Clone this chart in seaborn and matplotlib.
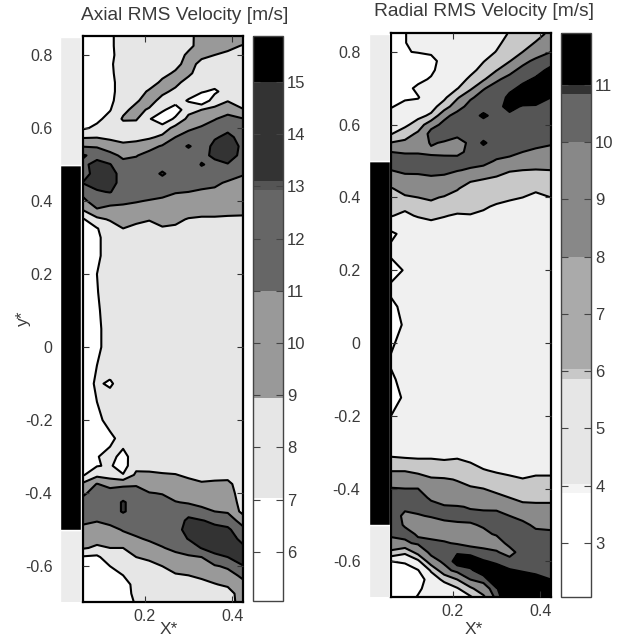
"""Axial and radial RMS velocity contour maps, greyscale."""

import matplotlib
matplotlib.use("Agg")
import matplotlib.pyplot as plt
from matplotlib.cm import ScalarMappable
from matplotlib.colors import BoundaryNorm, ListedColormap
import numpy as np
import seaborn as sns

FIG_W, FIG_H = 624, 638
TEXT_COLOR = "#3a3a3a"

x_star = [0.058, 0.09, 0.12, 0.15, 0.18, 0.21, 0.24, 0.27, 0.30, 0.33, 0.36, 0.39, 0.425]
y_star = [
    0.85, 0.825, 0.80, 0.775, 0.75, 0.725, 0.70, 0.675, 0.65, 0.625, 0.60, 0.575,
    0.55, 0.525, 0.50, 0.475, 0.45, 0.425, 0.40, 0.375, 0.35, 0.325, 0.30,
    0.25, 0.20, 0.15, 0.10, 0.05, 0.0, -0.05, -0.10, -0.15, -0.20, -0.25, -0.30,
    -0.325, -0.35, -0.375, -0.40, -0.425, -0.45, -0.475, -0.50, -0.525, -0.55,
    -0.575, -0.60, -0.625, -0.65, -0.675, -0.70,
]

# one list per x* column, top to bottom
axial_rms = [
    [6, 6, 6, 6, 6, 6, 6, 6, 6, 6, 6.7, 8.8, 10.9, 13.2, 12.6, 12, 13.1, 11.5, 10.6, 9, 6.8, 6, 6,
     6, 6, 6, 6, 6, 6, 6, 6, 6, 6, 6, 6,
     6, 6.8, 9.4, 10.6, 11.8, 12, 11.4, 10.5, 10, 9.2, 6.8, 6, 6, 6, 6, 6],
    [6, 6, 6, 6, 6, 6, 6, 6, 6, 6.6, 7.4, 8.9, 10.8, 12.4, 13.6, 14, 13.7, 12.8, 11.9, 10.8, 8.5, 6.9, 6.6,
     6.6, 7, 6.9, 6.7, 6.5, 6.5, 7, 7.3, 7, 6.4, 6.2, 6.9,
     6.9, 8.5, 11.1, 12, 12, 12, 11.1, 10.2, 9.6, 8.7, 6.6, 6, 6, 6, 6, 6],
    [6.6, 6.6, 6.5, 6.7, 6.6, 6.4, 6.4, 6.6, 6.9, 7.6, 7.8, 8.6, 10, 11.6, 13.1, 14, 14, 13.1, 11.5, 10.5, 9.2, 8, 8,
     8, 8, 8, 8, 8, 8, 8, 6.7, 8, 7.8, 6.5, 7.6,
     7.2, 8.2, 10.2, 12, 12, 12, 11.4, 10.6, 9.8, 9, 8.2, 7, 6, 6, 6, 6],
    [8, 8, 8, 8, 8, 8, 8, 8, 8.6, 9.2, 8.2, 8.4, 9.4, 10.6, 11.6, 12, 12, 12, 11.3, 10.5, 9.7, 9, 8.2,
     8, 8, 8, 8, 8, 8, 8, 8, 8, 8, 7.8, 6.4,
     6.2, 7.1, 10.6, 12, 13.2, 13.2, 11.8, 11.1, 10.5, 9, 8.3, 7.6, 7, 6, 6, 6],
    [8, 8, 8, 8, 8, 8, 8, 8.8, 9.5, 9.2, 8, 8.5, 9.6, 10.9, 11.6, 12, 12, 12, 11.1, 10.4, 9.4, 8.6, 8,
     8, 8, 8, 8, 8, 8, 8, 8, 8, 8, 8, 8,
     8.4, 9.4, 10.8, 11.7, 12.2, 12.2, 12, 11.5, 10.8, 10, 9, 8, 8, 7.8, 7.6, 7.2],
    [8, 8, 8, 8, 8, 8, 9.3, 9.7, 8.8, 7.2, 8, 8.7, 10.4, 11.6, 12, 12, 12, 11.7, 10.9, 10, 9.1, 8.4, 8,
     8, 8, 8, 8, 8, 8, 8, 8, 8, 8, 8, 8,
     8.3, 9.4, 9.9, 11.1, 12, 12, 12, 11.7, 11.2, 10.4, 9.4, 8.4, 8, 8, 8, 8],
    [8, 8, 8, 8, 8.4, 9.4, 9.4, 8.4, 7.4, 5.5, 8, 9.4, 11.2, 12, 12, 13.3, 12, 11.5, 10.7, 10, 9.4, 8.9, 8,
     8, 8, 8, 8, 8, 8, 8, 8, 8, 8, 8, 8,
     8.2, 9.2, 9.7, 10.9, 11.7, 12, 12, 12, 11.6, 10.9, 9.9, 9, 8.2, 8, 8, 8],
    [8, 8, 8, 8.4, 9.3, 9.5, 8.6, 8, 5.8, 7.4, 9.6, 11, 12, 12, 12, 12, 12, 11.1, 10.4, 9.8, 9.3, 8.8, 8,
     8, 8, 8, 8, 8, 8, 8, 8, 8, 8, 8, 8,
     8, 9.1, 9.7, 10.2, 11.1, 11.8, 12, 12, 12, 11.4, 10.5, 9.8, 8.8, 8, 8, 8],
    [8.6, 8.5, 9.4, 9.8, 9.4, 8.3, 8, 6.8, 8.4, 9.5, 10.7, 11.7, 13.2, 12, 12, 12, 11.8, 11, 10.4, 9.7, 8.9, 8, 8,
     8, 8, 8, 8, 8, 8, 8, 8, 8, 8, 8, 8,
     8, 8.6, 9.7, 10.1, 10.8, 12.3, 13.4, 14, 13.1, 11.8, 10.8, 9.8, 9, 8, 8, 8],
    [9.6, 9.8, 9.5, 8.4, 8, 8, 7.2, 5.5, 9, 10.2, 11.2, 12, 12, 12.6, 13.1, 12.4, 11.5, 10.8, 10.2, 9.5, 8.8, 8, 8,
     8, 8, 8, 8, 8, 8, 8, 8, 8, 8, 8, 8,
     8, 8.4, 9.2, 9.9, 10.6, 11.4, 13.1, 14, 14, 13.1, 11, 10.3, 9.4, 8.4, 8, 8],
    [10, 9.7, 9, 8.4, 8, 8, 6.6, 8, 9.5, 10.9, 11.8, 12.8, 13.5, 13.3, 12.6, 12, 11.3, 10.7, 10.1, 9.5, 8.8, 8, 8,
     8, 8, 8, 8, 8, 8, 8, 8, 8, 8, 8, 8,
     8, 8.5, 9.3, 9.9, 10.4, 11, 12.6, 13.5, 14, 13.6, 12.6, 10.8, 9.8, 8.9, 8, 8],
    [10, 9.4, 8.7, 8.2, 8, 8, 8, 8.9, 10.3, 11.6, 12.6, 13.4, 14, 13.8, 12.9, 11.8, 10.8, 10.4, 10, 9.5, 8.7, 8, 8,
     8, 8, 8, 8, 8, 8, 8, 8, 8, 8, 8, 8,
     8, 8.6, 9.3, 9.7, 10.2, 10.8, 12, 13.4, 14, 14, 13, 11.3, 10.3, 9.3, 8.2, 8],
    [9.8, 8.9, 8.2, 8, 8, 8, 8, 8.2, 9.1, 11.1, 11.8, 12.4, 12.6, 12.5, 12, 11.1, 10.6, 10.2, 9.9, 9.4, 8.7, 8, 8,
     8, 8, 8, 8, 8, 8, 8, 8, 8, 8, 8, 8,
     8, 8, 8.3, 8.2, 8.2, 8.4, 10.2, 11.5, 12.4, 13.4, 14, 12.9, 11.4, 10.5, 10, 10],
]

radial_rms = [
    [3, 3, 3, 3, 3, 3, 3, 3, 3.9, 4.5, 5.2, 5.9, 8.1, 10, 10.5, 10, 9.2, 7.9, 7.5, 6.8, 6.1, 5, 3.6,
     4.5, 3, 4.5, 3.5, 3, 3.6, 4.3, 3.6, 3.2, 4, 5, 5.5,
     6.5, 7.9, 9, 10.1, 10.5, 10.5, 10.5, 10.5, 10.3, 9.4, 7.6, 4, 3, 3, 3, 3],
    [3.9, 3.9, 3.9, 3, 3, 3, 3.4, 3.8, 4.4, 5, 5.6, 7, 8.5, 9.9, 10.5, 10.2, 9.7, 8.6, 7.8, 6.4, 5.6, 5, 4.6,
     5, 4.2, 5, 4.6, 4.3, 5, 5, 4.8, 4.3, 5, 5, 5.5,
     6.3, 7.9, 9, 10, 10.5, 10.2, 9.8, 9.9, 10.3, 9.8, 6.4, 4.3, 3, 3, 3, 3],
    [5, 5, 4.1, 3, 3, 3.5, 4.4, 3.9, 4.6, 5.5, 6.8, 8.4, 9.4, 9.9, 10.5, 10.3, 9.6, 9.2, 8, 7.2, 6.2, 5, 5,
     5, 5, 5, 5, 5, 5, 5, 5, 5, 5, 5, 5.5,
     6.2, 7.6, 8.7, 10, 10.5, 10.4, 9.9, 9.2, 9.9, 10.2, 8.8, 5.5, 3.9, 3, 3.6, 4.2],
    [5, 5, 4.2, 3.6, 3.6, 4.2, 5, 5, 5.3, 6.3, 9.4, 10.6, 10.1, 9.8, 10.4, 10.5, 9.7, 9.4, 8.3, 7.4, 6.4, 5.6, 5,
     5, 5, 5, 5, 5, 5, 5, 5, 5, 5, 5, 5.5,
     6.2, 6.9, 8.3, 9.1, 9.8, 10.4, 10.1, 9.4, 9.6, 10.3, 10.4, 9.3, 6.2, 5, 5, 5],
    [5, 5, 5, 4.5, 5, 5, 5, 5.6, 6.9, 9.6, 10.4, 10.5, 9.9, 9.8, 10.3, 10.2, 9.8, 9.3, 7.8, 7, 6.1, 5.4, 5,
     5, 5, 5, 5, 5, 5, 5, 5, 5, 5, 5, 5.4,
     6.1, 6.8, 8.2, 8.8, 9.5, 10.1, 10.3, 9.7, 9.6, 10.1, 10.5, 10.3, 9.4, 6.4, 5, 5],
    [5, 5, 5, 5, 5, 5, 5.9, 7.7, 9.4, 10.5, 10.5, 10.4, 9.4, 9.5, 10.7, 10.05, 9.5, 8.1, 7.6, 6.7, 5.8, 5, 5,
     5, 5, 5, 5, 5, 5, 5, 5, 5, 5, 5, 5.5,
     6.2, 6.7, 7.9, 8.5, 9, 10.1, 10.4, 9.8, 9.4, 9.9, 10.9, 11.4, 10.5, 8, 5.8, 5],
    [5, 5, 5, 5, 5.4, 6.4, 7.6, 9.8, 10.5, 10.5, 10.5, 10.5, 10.3, 10.5, 10.3, 9.9, 8.2, 7.5, 7.1, 6.6, 5.9, 5, 5,
     5, 5, 5, 5, 5, 5, 5, 5, 5, 5, 5, 5,
     5.9, 6.6, 7.4, 8.2, 8.7, 9.9, 10.3, 9.9, 9.4, 9.6, 10.7, 11.6, 10.8, 10, 7.6, 5.6],
    [5, 5, 5, 5.9, 6.7, 7.7, 9.9, 10.5, 10.5, 11.2, 10.5, 10.5, 11.15, 10.5, 10.3, 9.7, 8, 7.3, 6.9, 6.2, 5.7, 5, 5,
     5, 5, 5, 5, 5, 5, 5, 5, 5, 5, 5, 5,
     5.4, 6.1, 6.9, 8, 8.6, 9.8, 10.3, 10.1, 9.8, 9.6, 10.3, 11.1, 11.6, 10.5, 9.2, 7.5],
    [5, 5.5, 6.1, 7, 7.9, 9.8, 10.5, 10.5, 10.7, 10.6, 10.5, 10.5, 10.5, 10.4, 9.9, 8.7, 7.7, 7.1, 6.5, 5.8, 5.2, 5, 5,
     5, 5, 5, 5, 5, 5, 5, 5, 5, 5, 5, 5,
     5, 5.8, 6.6, 7.5, 8.5, 9.7, 10.4, 10.3, 10.1, 9.5, 10.1, 10.8, 11.5, 12, 10.9, 10.5],
    [6.2, 6.8, 7.3, 7.9, 9.6, 10.4, 10.8, 11.2, 11.3, 10.8, 10.5, 10.5, 10.5, 10.3, 9.7, 8.1, 7.5, 6.9, 6.2, 5.6, 5, 5, 5,
     5, 5, 5, 5, 5, 5, 5, 5, 5, 5, 5, 5,
     5, 5.5, 6.4, 7.2, 8, 9, 10, 10.5, 10.5, 10.3, 9.6, 10.4, 11.1, 12, 12, 12],
    [6.6, 7.3, 8, 9.6, 10.4, 10.8, 11.2, 11.7, 10.9, 10.7, 10.5, 10.5, 10.5, 10, 9.5, 8, 7.4, 6.7, 6, 5.4, 5, 5, 5,
     5, 5, 5, 5, 5, 5, 5, 5, 5, 5, 5, 5,
     5, 5.2, 6.1, 6.9, 7.6, 8.4, 9.5, 10.4, 10.5, 10.5, 10.5, 10.6, 10.9, 11.6, 12, 12],
    [7.4, 8.1, 9.3, 10.3, 10.7, 11.1, 11.6, 11.5, 10.9, 10.7, 10.6, 10.5, 10.3, 9.8, 9.2, 7.9, 7.2, 6.3, 5.6, 5, 5, 5, 5,
     5, 5, 5, 5, 5, 5, 5, 5, 5, 5, 5, 5,
     5, 5.6, 6.3, 7, 7.6, 8.3, 9, 9.7, 10.4, 10.5, 10.5, 10.5, 10.7, 11.4, 12, 12],
    [8.4, 9, 10, 10.7, 11.2, 11.8, 11.9, 11, 10.8, 10.7, 10.6, 10.4, 10.1, 9.7, 9, 8, 7.4, 6.7, 6, 5.4, 5, 5, 5,
     5, 5, 5, 5, 5, 5, 5, 5, 5, 5, 5, 5,
     5, 5.6, 6.3, 7, 7.6, 8.3, 8.9, 9.6, 10.3, 10.5, 10.5, 10.5, 10.6, 11, 12, 12],
]

# contour levels and fills
axial_levels = [5.06, 7, 9, 11, 13, 15, 15.88]
axial_fills = ["#ffffff", "#e6e6e6", "#999999", "#666666", "#333333", "#000000"]
radial_levels = [2.06, 4, 6, 8, 10, 11, 13]
radial_fills = ["#ffffff", "#f0f0f0", "#c8c8c8", "#8a8a8a", "#555555", "#000000"]

# colour bar bands
axial_bar_edges = [5.06, 7.03, 8.95, 11, 12.93, 13.1, 15, 15.88]
axial_bar_fills = ["#ffffff", "#e6e6e6", "#999999", "#666666", "#555555", "#333333", "#000000"]
axial_bar_ticks = [6, 7, 8, 9, 10, 11, 12, 13, 14, 15]
radial_bar_edges = [2.06, 3.88, 4.03, 5.87, 6.03, 8, 10, 10.83, 11, 11.9]
radial_bar_fills = ["#ffffff", "#f4f4f4", "#e6e6e6", "#c8c8c8", "#aaaaaa",
                    "#888888", "#666666", "#333333", "#000000"]
radial_bar_ticks = [3, 4, 5, 6, 7, 8, 9, 10, 11]

# nozzle strip beside each map
strip_edges = [-0.7, -0.5, 0.5, 0.85]
strip_fills = ["#ececec", "#000000", "#ececec"]

y_ticks = [-0.6, -0.4, -0.2, 0, 0.2, 0.4, 0.6, 0.8]
y_tick_labels = ["-0.6", "-0.4", "-0.2", "0", "0.2", "0.4", "0.6", "0.8"]
x_ticks = [0.2, 0.4]


def px_axes(fig, left, top, right, bottom):
    """Axes placed by pixel box, origin top left."""
    return fig.add_axes([left / FIG_W, 1 - bottom / FIG_H,
                         (right - left) / FIG_W, (bottom - top) / FIG_H])


def draw_panel(fig, box, strip_box, bar_box, values, levels, fills,
               bar_edges, bar_fills, bar_ticks, title, title_xy, xlabel_x):
    ax = px_axes(fig, *box)
    grid = np.array(values, dtype=float).T
    ax.contourf(x_star, y_star, grid, levels=levels, colors=fills)
    ax.contour(x_star, y_star, grid, levels=levels[1:-1], colors="black", linewidths=1.5)
    ax.set_xlim(0.058, 0.425)
    ax.set_ylim(-0.698, 0.852)
    ax.set_xticks(x_ticks)
    ax.set_xticklabels(["0.2", "0.4"])
    ax.set_yticks(y_ticks)
    ax.set_yticklabels(y_tick_labels)
    ax.set_axisbelow(False)
    ax.tick_params(axis="both", direction="in", length=4, width=0.8, color="#333333",
                   left=True, bottom=True, top=True, right=True,
                   labelcolor=TEXT_COLOR, labelsize=11.5)
    ax.tick_params(axis="y", pad=22)
    ax.tick_params(axis="x", pad=5)
    for spine in ax.spines.values():
        spine.set_linewidth(1.6)
        spine.set_color("black")

    strip = px_axes(fig, *strip_box)
    for low, high, fill in zip(strip_edges[:-1], strip_edges[1:], strip_fills):
        strip.bar(0, high - low, bottom=low, width=1, color=fill)
    strip.set_xlim(-0.5, 0.5)
    strip.set_ylim(ax.get_ylim())
    strip.axis("off")

    cax = px_axes(fig, *bar_box)
    norm = BoundaryNorm(bar_edges, len(bar_fills))
    mappable = ScalarMappable(norm=norm, cmap=ListedColormap(bar_fills))
    cbar = fig.colorbar(mappable, cax=cax, spacing="proportional", ticks=bar_ticks)
    cbar.ax.minorticks_off()
    cbar.ax.set_axisbelow(False)
    cbar.ax.set_yticklabels([str(t) for t in bar_ticks])
    cbar.ax.tick_params(direction="in", length=5, width=0.8, color="#444444", left=True,
                        right=True, labelcolor=TEXT_COLOR, labelsize=12, pad=3)
    cbar.outline.set_linewidth(1.0)
    cbar.outline.set_edgecolor("#444444")

    fig.text(title_xy[0] / FIG_W, 1 - title_xy[1] / FIG_H, title, ha="center", va="center",
             fontsize=13.8, color=TEXT_COLOR)
    fig.text(xlabel_x / FIG_W, 1 - 630 / FIG_H, "X*", ha="center", va="center",
             fontsize=12.5, color=TEXT_COLOR)
    return ax


def main():
    sns.set_theme(style="white")
    plt.rcParams["font.family"] = ["Liberation Sans", "DejaVu Sans"]

    fig = plt.figure(figsize=(FIG_W / 100, FIG_H / 100), dpi=100)
    draw_panel(fig, (83, 36, 243, 602), (60, 36, 81, 602), (253, 36, 283, 601),
               axial_rms, axial_levels, axial_fills,
               axial_bar_edges, axial_bar_fills, axial_bar_ticks,
               "Axial RMS Velocity [m/s]", (185, 16), 169)
    draw_panel(fig, (391, 33, 551, 597), (369, 33, 390, 597), (561, 33, 591, 597),
               radial_rms, radial_levels, radial_fills,
               radial_bar_edges, radial_bar_fills, radial_bar_ticks,
               "Radial RMS Velocity [m/s]", (484, 12), 474)
    fig.text(23 / FIG_W, 1 - 318 / FIG_H, "y*", rotation=90, ha="center", va="center",
             fontsize=12.5, color=TEXT_COLOR)

    fig.savefig("out.png", dpi=100)
    plt.close(fig)


if __name__ == "__main__":
    main()
